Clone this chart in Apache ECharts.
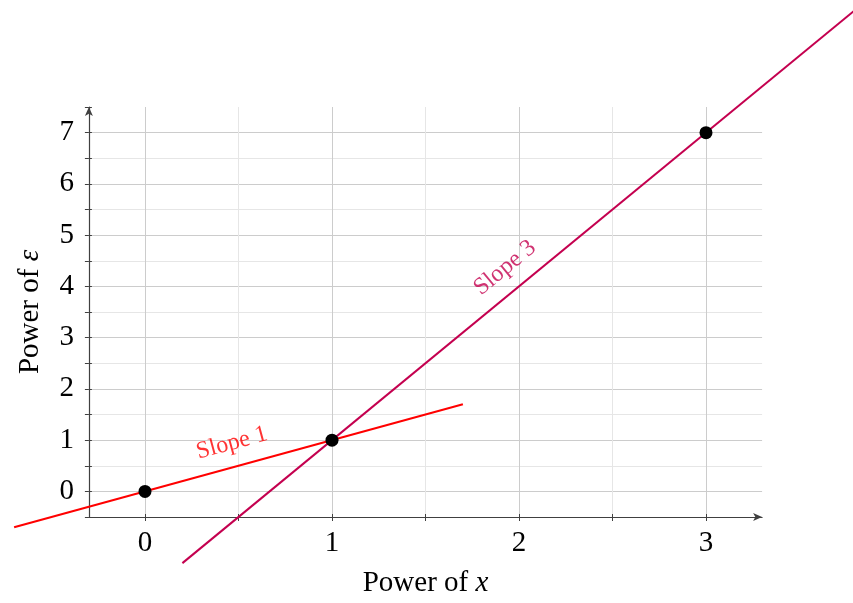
<!DOCTYPE html>
<html>
<head>
<meta charset="utf-8">
<script src="https://cdn.jsdelivr.net/npm/echarts@6/dist/echarts.min.js"></script>
<style>html,body{margin:0;padding:0;background:#fff}#c{width:853px;height:603px}</style>
</head>
<body>
<div id="c"></div>
<script>
// ---- data ----
const pointsX = [0, 1, 3];
const pointsY = [0, 1, 7];
const slope1X = [-0.7, 1.7];
const slope1Y = [-0.7, 1.7];
const slope3X = [0.2, 3.8];
const slope3Y = [-1.4, 9.4];
const slopeLabels = ['Slope 1', 'Slope 3'];
const slopeLabelX = [0.465, 1.925];
const slopeLabelY = [0.94, 4.36];
const slopeLabelRot = [15.3, 39.4];
const xTickLabels = [0, 1, 2, 3];
const yTickLabels = [0, 1, 2, 3, 4, 5, 6, 7];

// ---- layout / style ----
const W = 853, H = 603;
const X0 = 145, KX = 187;          // pixel of x=0, px per unit
const Y_TOP = 107, Y_BOT = 517;    // pixels of y=7.5 and y=-0.5
const XMIN = -0.3, XMAX = 3.3, YMIN = -0.5, YMAX = 7.5;
const KY = (Y_BOT - Y_TOP) / (YMAX - YMIN);
const Y0 = Y_BOT + YMIN * KY;

const RED = '#ff0000';
const PURPLE = '#c4004f';
const FONT = 'Liberation Serif';
const FS = 29;
const MAJOR = '#cccccc';
const MINOR = '#e6e6e6';
const AX = '#404040';

const isInt = v => Math.abs(v - Math.round(v)) < 1e-6;

const chart = echarts.init(document.getElementById('c'), null, {renderer: 'canvas'});

const gridA = {left: X0 + xTickLabels[0] * KX, right: W - (X0 + xTickLabels[xTickLabels.length - 1] * KX), top: Y_TOP, bottom: H - Y_BOT};
const gridB = {left: X0 + XMIN * KX, right: W - (X0 + XMAX * KX), top: Y_TOP, bottom: H - Y_BOT};
const gridC = {left: 0, right: 0, top: 0, bottom: 0};

const hidden = {show: false};
const richName = {
  n: {fontFamily: FONT, fontSize: FS, color: '#000'},
  i: {fontFamily: FONT, fontSize: FS, fontStyle: 'italic', color: '#000'}
};

const option = {
  backgroundColor: '#fff',
  animation: false,
  grid: [gridA, gridB, gridC],
  xAxis: [
    // A: vertical grid lines, x ticks & labels
    {
      gridIndex: 0, type: 'value', min: xTickLabels[0], max: xTickLabels[xTickLabels.length - 1], interval: 0.5,
      position: 'bottom',
      axisLine: {show: false, onZero: false},
      axisTick: {show: true, inside: false, length: 4, lineStyle: {color: AX}},
      axisLabel: {
        margin: 12, fontFamily: FONT, fontSize: FS, color: '#000',
        formatter: v => isInt(v) ? String(Math.round(v)) : ''
      },
      splitLine: {show: true, showMinLine: true, showMaxLine: true, lineStyle: {color: [MAJOR, MINOR], width: 1}}
    },
    {
      gridIndex: 0, type: 'value', min: xTickLabels[0], max: xTickLabels[xTickLabels.length - 1], interval: 0.5,
      position: 'bottom',
      axisLine: {show: false, onZero: false},
      axisTick: {show: true, inside: true, length: 3, lineStyle: {color: AX}},
      axisLabel: hidden, splitLine: hidden
    },
    // B: x axis line with arrow and name
    {
      gridIndex: 1, type: 'value', min: XMIN, max: XMAX, position: 'bottom',
      name: '{n|Power of }{i|x}',
      nameLocation: 'middle', nameGap: 52,
      nameTextStyle: {rich: richName},
      axisLine: {show: true, onZero: false, symbol: ['none', 'arrow'], symbolSize: [6, 9], lineStyle: {color: AX, width: 1.2}},
      axisTick: hidden, axisLabel: hidden, splitLine: hidden
    },
    // C: data plane (full canvas)
    {gridIndex: 2, type: 'value', min: -X0 / KX, max: (W - X0) / KX, show: false}
  ],
  yAxis: [
    {gridIndex: 0, type: 'value', min: YMIN, max: YMAX, show: false},
    {
      gridIndex: 1, type: 'value', min: YMIN, max: YMAX, interval: 0.5, position: 'left',
      name: '{n|Power of }{i|ε}',
      nameLocation: 'middle', nameGap: 44, nameRotate: 90,
      nameTextStyle: {rich: richName},
      axisLine: {show: true, onZero: false, symbol: ['none', 'arrow'], symbolSize: [6, 9], lineStyle: {color: AX, width: 1.2}},
      axisTick: {show: true, inside: false, length: 4, lineStyle: {color: AX}},
      axisLabel: {
        margin: 15, fontFamily: FONT, fontSize: FS, color: '#000',
        formatter: v => (isInt(v) && yTickLabels.indexOf(Math.round(v)) >= 0) ? String(Math.round(v)) : ''
      },
      splitLine: {show: true, showMinLine: false, showMaxLine: false, lineStyle: {color: [MAJOR, MINOR], width: 1}}
    },
    {
      gridIndex: 1, type: 'value', min: YMIN, max: YMAX, interval: 0.5, position: 'left',
      axisLine: {show: false, onZero: false},
      axisTick: {show: true, inside: true, length: 3, lineStyle: {color: AX}},
      axisLabel: hidden, splitLine: hidden
    },
    {gridIndex: 2, type: 'value', min: -(H - Y0) / KY, max: Y0 / KY, show: false}
  ],
  series: [
    {
      type: 'line', name: 'Slope 1', xAxisIndex: 3, yAxisIndex: 3, symbol: 'none',
      lineStyle: {color: RED, width: 2}, z: 3,
      data: slope1X.map((x, i) => [x, slope1Y[i]])
    },
    {
      type: 'line', name: 'Slope 3', xAxisIndex: 3, yAxisIndex: 3, symbol: 'none',
      lineStyle: {color: PURPLE, width: 2}, z: 3,
      data: slope3X.map((x, i) => [x, slope3Y[i]])
    },
    {
      type: 'scatter', xAxisIndex: 3, yAxisIndex: 3, symbol: 'circle', symbolSize: 13, z: 5,
      itemStyle: {color: '#000', opacity: 1},
      data: pointsX.map((x, i) => [x, pointsY[i]])
    },
    {
      type: 'scatter', xAxisIndex: 3, yAxisIndex: 3, symbolSize: 0, z: 6, silent: true,
      data: slopeLabels.map((t, i) => ({
        value: [slopeLabelX[i], slopeLabelY[i]],
        label: {
          show: true, position: 'inside', formatter: t,
          rotate: slopeLabelRot[i],
          fontFamily: FONT, fontSize: 24,
          color: i === 0 ? RED : PURPLE
        }
      }))
    }
  ]
};
chart.setOption(option);
</script>
</body>
</html>
